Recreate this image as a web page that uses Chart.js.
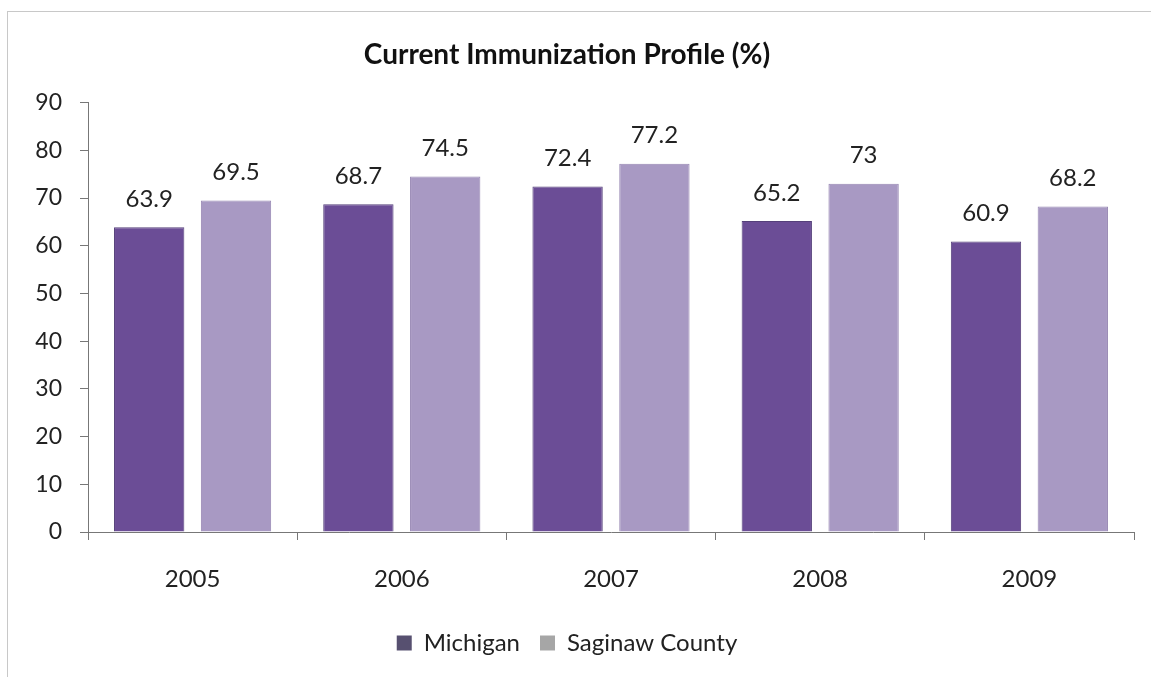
<!DOCTYPE html>
<html>
<head>
<meta charset="utf-8">
<script src="https://cdn.jsdelivr.net/npm/chart.js@4.4.0/dist/chart.umd.min.js"></script>
<style>
	html, body { margin: 0; padding: 0; background: #fff; }
	#frame { position: absolute; left: 7px; top: 11px; width: 1150px; height: 670px; border: 1px solid #c8c8c8; box-sizing: border-box; }
	#wrap { position: absolute; left: 0; top: 0; width: 1151px; height: 677px; }
</style>
</head>
<body>
<div id="frame"></div>
<div id="wrap"><canvas id="chart" width="1151" height="677"></canvas></div>
<script>
// 데이터
const years = ['2005', '2006', '2007', '2008', '2009'];
const michigan = [63.9, 68.7, 72.4, 65.2, 60.9];
const saginaw = [69.5, 74.5, 77.2, 73, 68.2];
const yTicks = [0, 10, 20, 30, 40, 50, 60, 70, 80, 90];

const FONT = 'Lato, "Open Sans", sans-serif';

// 막대 위 값 표시
const valueLabels = {
	id: 'valueLabels',
	afterDatasetsDraw(chart) {
		const ctx = chart.ctx;
		ctx.save();
		ctx.font = '24px ' + FONT;
		ctx.fillStyle = '#222';
		ctx.textAlign = 'center';
		ctx.textBaseline = 'middle';
		chart.data.datasets.forEach((ds, i) => {
			chart.getDatasetMeta(i).data.forEach((bar, j) => {
				ctx.fillText(String(ds.data[j]), bar.x, bar.y - 28);
			});
		});
		ctx.restore();
	}
};

new Chart(document.getElementById('chart'), {
	type: 'bar',
	data: {
		labels: years,
		datasets: [
			{ label: 'Michigan', data: michigan, backgroundColor: '#6b4d96', borderColor: '#55407a', borderWidth: 1, legendColor: '#575070' },
			{ label: 'Saginaw County', data: saginaw, backgroundColor: '#a899c3', borderColor: '#9686b2', borderWidth: 1, legendColor: '#a6a6a6' }
		]
	},
	options: {
		responsive: false,
		animation: false,
		categoryPercentage: 0.83,
		barPercentage: 0.81,
		layout: { padding: { left: 0, right: 17, top: 0, bottom: 12 } },
		scales: {
			x: {
				grid: { display: true, drawOnChartArea: false, offset: true, tickLength: 8, color: '#777' },
				border: { color: '#777' },
				ticks: { color: '#222', font: { size: 24, family: FONT }, padding: 25 },
				afterFit: s => { s.height = 79; }
			},
			y: {
				min: 0, max: 90,
				afterBuildTicks: s => { s.ticks = yTicks.map(v => ({ value: v })); },
				grid: { display: true, drawOnChartArea: false, tickLength: 8, color: '#777' },
				border: { color: '#777' },
				ticks: { color: '#222', font: { size: 23, family: FONT }, padding: 18 },
				afterFit: s => { s.width = 88; }
			}
		},
		plugins: {
			title: {
				display: true,
				text: 'Current Immunization Profile (%)',
				color: '#111',
				font: { size: 28, weight: 'bold', family: FONT },
				padding: { top: 38, bottom: 31 }
			},
			legend: {
				position: 'bottom',
				labels: {
					color: '#222',
					font: { size: 24, family: FONT },
					boxWidth: 15, boxHeight: 15, padding: 20,
					generateLabels: chart => chart.data.datasets.map((ds, i) => ({
						text: ds.label, fillStyle: ds.legendColor, strokeStyle: ds.legendColor,
						lineWidth: 0, fontColor: '#222', datasetIndex: i
					}))
				}
			},
			tooltip: { enabled: false }
		}
	},
	plugins: [valueLabels]
});
</script>
</body>
</html>
